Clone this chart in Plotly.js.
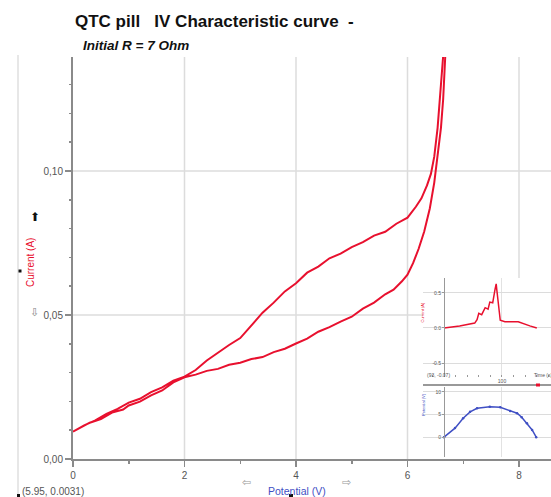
<!DOCTYPE html>
<html>
<head>
<meta charset="utf-8">
<script src="https://cdn.plot.ly/plotly-3.0.1.min.js"></script>
<style>html,body{margin:0;padding:0;background:#fff;}#chart{width:551px;height:497px;}</style>
</head>
<body>
<div id="chart"></div>
<script>
// Main IV loop: forward (lower) branch
const fwdV = [0.00,0.15,0.30,0.50,0.70,0.90,1.00,1.20,1.40,1.60,1.80,2.00,2.20,2.40,2.60,2.80,3.00,3.20,3.40,3.60,3.80,4.00,4.20,4.40,4.60,4.80,5.00,5.20,5.40,5.60,5.75,5.90,6.00,6.10,6.20,6.30,6.40,6.48,6.55,6.60,6.64,6.67,6.69];
const fwdI = [0.0095,0.0112,0.0126,0.0139,0.0161,0.0172,0.0186,0.0199,0.0221,0.0238,0.0266,0.0284,0.0293,0.0306,0.0313,0.0327,0.0334,0.0347,0.0354,0.0371,0.0383,0.0401,0.0418,0.0442,0.0458,0.0477,0.0494,0.0522,0.0543,0.0572,0.0588,0.0617,0.0640,0.0680,0.0730,0.0790,0.0870,0.0960,0.1060,0.1150,0.1250,0.1350,0.1450];
// return (upper) branch
const retV = [6.66,6.62,6.58,6.54,6.48,6.42,6.35,6.25,6.15,6.00,5.80,5.60,5.40,5.20,5.00,4.80,4.60,4.40,4.20,4.00,3.80,3.60,3.40,3.20,3.00,2.80,2.60,2.40,2.20,2.00,1.80,1.60,1.40,1.20,1.00,0.80,0.60,0.40,0.20,0.00];
const retI = [0.1450,0.1350,0.1250,0.1150,0.1050,0.0990,0.0950,0.0905,0.0876,0.0838,0.0817,0.0789,0.0776,0.0753,0.0736,0.0713,0.0697,0.0668,0.0647,0.0610,0.0582,0.0543,0.0508,0.0462,0.0420,0.0396,0.0368,0.0342,0.0309,0.0286,0.0272,0.0249,0.0232,0.0209,0.0196,0.0174,0.0157,0.0134,0.0117,0.0095];
// Inset 1: current vs time
const insT1 = [0,27,53,57,60,65,71,76,79,84,88,90,91,97,105,128,148,160];
const insI1 = [0.0,0.03,0.07,0.12,0.21,0.19,0.29,0.27,0.37,0.36,0.55,0.63,0.55,0.11,0.09,0.09,0.03,0.0];
// Inset 2: potential vs time
const insT2 = [0,19,33,45,57,79,97,114,126,134,143,152,159];
const insV2 = [0,2.0,4.2,5.6,6.4,6.7,6.6,5.8,5.3,4.4,3.1,1.6,0];
const xTicks = [0,2,4,6,8];
const yTicks = [0,0.05,0.10];

const RED = '#e8102e';
const BLUE = '#3f4fc4';
const GRID = '#dcdcdc';

const xRange = [0, 8.574];
const yRange = [0, 0.1396];

// paper mapping helpers: plot area x 73..551, y 57..459
const px = v => (v-73)/478;
const py = v => (459-v)/402;

// inset panel bounds (paper) -> main-axis values where main gridlines stop
const insetLeft = px(423), insetTop = py(278);
const gridStopX = xRange[0] + insetLeft*(xRange[1]-xRange[0]);
const gridStopY = yRange[0] + insetTop*(yRange[1]-yRange[0]);

const traces = [
  {x: fwdV.concat(retV), y: fwdI.concat(retI), type:'scatter', mode:'lines',
   line:{color:RED, width:2}, xaxis:'x', yaxis:'y', hoverinfo:'skip'},
  {x: insT1, y: insI1, type:'scatter', mode:'lines', line:{color:RED, width:1.5}, xaxis:'x2', yaxis:'y2'},
  {x: insT2, y: insV2, type:'scatter', mode:'lines+markers', line:{color:BLUE, width:1.5},
   marker:{size:2.5, color:BLUE}, xaxis:'x3', yaxis:'y3'}
];

const FONT = 'Liberation Sans, Arial, sans-serif';
const tinyFont = {family:FONT, size:5, color:'#555'};

// main gridlines (stop at the inset panel)
const gridShapes = [];
xTicks.filter(v => v > 0).forEach(v => {
  gridShapes.push({type:'line', xref:'x', yref:'y', layer:'below', x0:v, x1:v,
    y0: v > gridStopX ? gridStopY : yRange[0], y1: yRange[1], line:{color:GRID, width:1.5}});
});
yTicks.filter(v => v > 0).forEach(v => {
  gridShapes.push({type:'line', xref:'x', yref:'y', layer:'below', y0:v, y1:v,
    x0: xRange[0], x1: v < gridStopY ? gridStopX : xRange[1], line:{color:GRID, width:1.5}});
});

const layout = {
  width:551, height:497,
  margin:{l:73, r:0, t:57, b:38, pad:0},
  paper_bgcolor:'#fff', plot_bgcolor:'#fff',
  separators:',.',
  showlegend:false,
  font:{family:FONT, size:10, color:'#555'},
  title:{text:'QTC pill\u00a0\u00a0\u00a0IV Characteristic curve\u00a0\u00a0-', xref:'container', yref:'container',
         x:75/551, xanchor:'left', y:1-21/497, yanchor:'middle',
         font:{family:FONT, size:17, color:'#111', weight:'bold'}},
  xaxis:{domain:[0,1], range:xRange, tickvals:xTicks, ticktext:xTicks.map(String),
         showgrid:false, zeroline:false,
         showline:true, linecolor:'#8a8a8a', linewidth:2, ticks:'outside', ticklen:6, tickcolor:'#8a8a8a', tickwidth:1.5,
         minor:{dtick:1, tick0:0, ticks:'outside', ticklen:3, tickcolor:'#8a8a8a', showgrid:false},
         tickfont:{size:10, color:'#555'}, fixedrange:true},
  yaxis:{domain:[0,1], range:yRange, tickvals:yTicks, tickformat:'.2f',
         showgrid:false, zeroline:false,
         showline:true, linecolor:'#8a8a8a', linewidth:2, ticks:'outside', ticklen:6, tickcolor:'#8a8a8a', tickwidth:1.5,
         minor:{dtick:0.01, tick0:0, ticks:'outside', ticklen:2, tickcolor:'#8a8a8a', showgrid:false},
         tickfont:{size:10, color:'#555'}, fixedrange:true},
  // upper inset
  xaxis2:{domain:[insetLeft,1], anchor:'y2', range:[-36.2,184.5], tickvals:[100], ticktext:['100'],
          showgrid:true, gridcolor:'#e2e2e2', zeroline:false, showline:false,
          ticks:'', tickfont:tinyFont, minor:{dtick:20, ticks:'inside', ticklen:2, tickcolor:'#999', showgrid:false}},
  yaxis2:{domain:[py(377),insetTop], anchor:'free', position:px(444), range:[-0.7,0.714],
          tickvals:[-0.5,0,0.5], ticktext:['-0.5','0.0','0.5'], showgrid:true, gridcolor:GRID, zeroline:false,
          showline:true, linecolor:'#999', linewidth:1, ticks:'outside', ticklen:2, tickcolor:'#999', tickfont:tinyFont},
  // lower inset
  xaxis3:{domain:[insetLeft,1], anchor:'y3', range:[-36.2,184.5], tickvals:[100], showticklabels:false,
          showgrid:true, gridcolor:'#e2e2e2', zeroline:false, showline:false, ticks:''},
  yaxis3:{domain:[py(457),py(387)], anchor:'free', position:px(444), range:[-4.4,11.1],
          tickvals:[0,5,10], showgrid:true, gridcolor:GRID, zeroline:false,
          showline:true, linecolor:'#999', linewidth:1, ticks:'outside', ticklen:2, tickcolor:'#999', tickfont:tinyFont},
  shapes: gridShapes.concat([
    {type:'line', xref:'paper', yref:'paper', x0:px(18), x1:px(18), y0:py(55), y1:py(497), line:{color:'#cfcfcf', width:1}},
    {type:'line', xref:'paper', yref:'paper', x0:insetLeft, x1:1, y0:py(385), y1:py(385), line:{color:'#777', width:1.5}},
    {type:'rect', xref:'paper', yref:'paper', x0:px(18.5), x1:px(21.5), y0:py(269.5), y1:py(272.5), fillcolor:'#111', line:{width:0}},
    {type:'rect', xref:'paper', yref:'paper', x0:px(17), x1:px(20), y0:py(494), y1:py(497), fillcolor:'#111', line:{width:0}},
    {type:'rect', xref:'paper', yref:'paper', x0:px(289), x1:px(293), y0:py(494), y1:py(497), fillcolor:'#111', line:{width:0}},
    {type:'rect', xref:'paper', yref:'paper', x0:px(536), x1:px(540), y0:py(383.5), y1:py(386.5), fillcolor:RED, line:{width:0}}
  ]),
  annotations:[
    {text:'<b><i>Initial R = 7 Ohm</i></b>', xref:'paper', yref:'paper', x:px(81), y:py(46), xanchor:'left', yanchor:'middle',
     showarrow:false, font:{size:13.5, color:'#111'}},
    {text:'Current (A)', xref:'paper', yref:'paper', x:px(30), y:py(263), xanchor:'center', yanchor:'middle', textangle:-90,
     showarrow:false, font:{size:10, color:RED}},
    {text:'\u2B06', xref:'paper', yref:'paper', x:px(28), y:py(217), showarrow:false, font:{size:12, color:'#111'}},
    {text:'\u21E9', xref:'paper', yref:'paper', x:px(28), y:py(312), showarrow:false, font:{size:11, color:'#888'}},
    {text:'Potential (V)', xref:'paper', yref:'paper', x:px(297), y:py(491), xanchor:'center', yanchor:'middle',
     showarrow:false, font:{size:10.5, color:BLUE}},
    {text:'\u21E6', xref:'paper', yref:'paper', x:px(246), y:py(490), showarrow:false, font:{size:11, color:'#999'}},
    {text:'\u21E8', xref:'paper', yref:'paper', x:px(346), y:py(490), showarrow:false, font:{size:11, color:'#999'}},
    {text:'(5.95, 0.0031)', xref:'paper', yref:'paper', x:px(20), y:py(491), xanchor:'left', yanchor:'middle',
     showarrow:false, font:{size:10, color:'#555'}},
    {text:'Current (A)', xref:'paper', yref:'paper', x:px(426), y:py(325), textangle:-90, showarrow:false, font:{size:4, color:RED}},
    {text:'Potential (V)', xref:'paper', yref:'paper', x:px(428), y:py(418), textangle:-90, showarrow:false, font:{size:4, color:BLUE}},
    {text:'(93, -0.07)', xref:'paper', yref:'paper', x:px(425), y:py(380), xanchor:'left', showarrow:false, font:{size:5, color:'#555'}},
    {text:'Time (s)', xref:'paper', yref:'paper', x:px(532), y:py(380), xanchor:'left', showarrow:false, font:{size:5, color:'#555'}}
  ]
};

Plotly.newPlot('chart', traces, layout, {staticPlot:true, displayModeBar:false});
</script>
</body>
</html>
